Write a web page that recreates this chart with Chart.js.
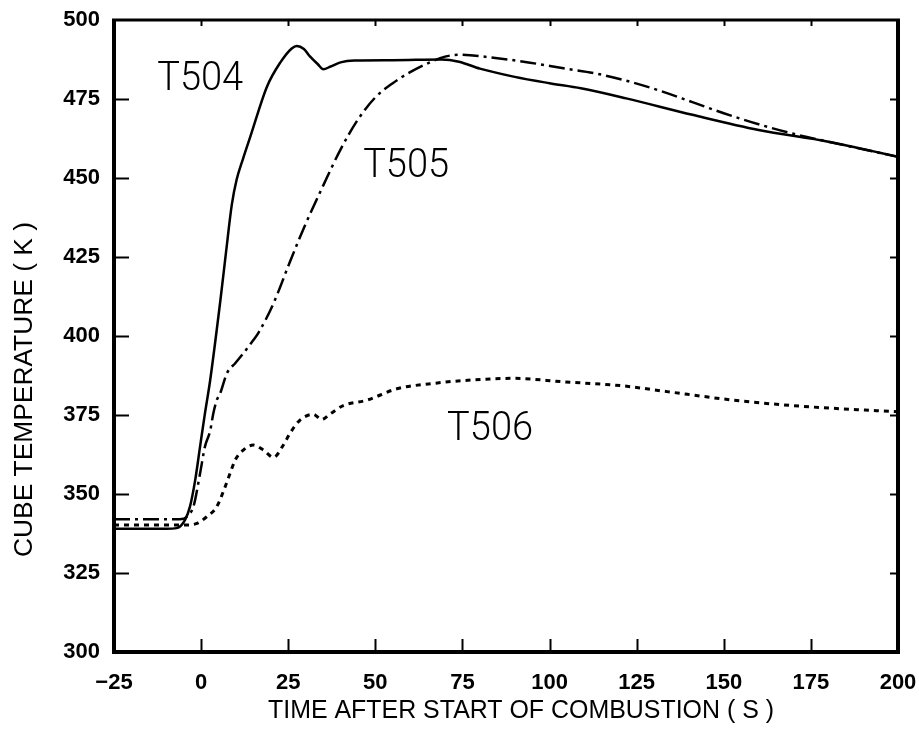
<!DOCTYPE html>
<html>
<head>
<meta charset="utf-8">
<script src="https://cdn.jsdelivr.net/npm/chart.js@4/dist/chart.umd.min.js"></script>
<style>
  html, body { margin: 0; padding: 0; background: #ffffff; }
  #wrap { width: 919px; height: 731px; }
</style>
</head>
<body>
<div id="wrap"><canvas id="c" width="919" height="731"></canvas></div>
<script>
// ---- data ----
const xTicks = [-25, 0, 25, 50, 75, 100, 125, 150, 175, 200];
const xTickLabels = ["\u221225", "0", "25", "50", "75", "100", "125", "150", "175", "200"];
const yTicks = [300, 325, 350, 375, 400, 425, 450, 475, 500];
const yTickLabels = ["300", "325", "350", "375", "400", "425", "450", "475", "500"];

const seriesNames = ["T504", "T505", "T506"];

const t504Time = [-25, -10, -7, -4.6, -3.2, -1.7, -0.3, 1.1, 2.6, 5.5, 7.2, 8.8, 10.2, 12, 14.1, 18.9, 22.7, 26, 27.5, 29.5, 31.3, 33.5, 35.1, 37, 40, 44, 55, 69, 74, 80, 90, 100, 109, 122, 141, 160, 180, 200];
const t504Temp = [339, 339, 339.2, 341.8, 346, 354.4, 365, 375.5, 386, 411, 427, 441.5, 449.5, 456, 463, 478.9, 486.5, 491, 491.8, 490.8, 488.4, 486, 484.4, 485.2, 486.6, 487.2, 487.3, 487.5, 486.8, 484.6, 482, 480, 478.4, 475.2, 470, 465.2, 461.5, 456.7];

const t505Time = [-25, -8, -5, -3.6, -2.2, -0.3, 1.1, 2.6, 3.5, 4.5, 5.5, 7.4, 9.8, 12.1, 15, 16.4, 20.8, 25.5, 30, 35, 40, 45, 50, 55, 60, 65, 70, 74, 85, 94.4, 104, 113.6, 123, 132, 141, 150, 160, 170, 180, 200];
const t505Temp = [342, 342, 342.2, 343.4, 346, 356.5, 365, 370, 375.5, 379.7, 381.9, 388.2, 391.4, 394.5, 398.7, 400.9, 410.4, 423.5, 435.5, 447.5, 459, 468.5, 475.5, 480, 483.5, 486.3, 488.4, 489, 487.9, 486.5, 484.7, 483, 480.5, 477.5, 474, 470.5, 467, 464, 461.5, 456.7];

const t506Time = [-25, -4, -1.2, 1.6, 4.5, 6.9, 8.3, 9.8, 12.1, 15, 17.9, 20.8, 23.6, 25.5, 28.4, 32.2, 34.6, 37, 40.8, 47.6, 56.2, 66.7, 75.3, 89.6, 104, 121.2, 133.7, 152.8, 171.9, 200];
const t506Temp = [340.2, 340.2, 340.7, 342.8, 346, 352.3, 356.5, 360.8, 363.9, 365.5, 363.9, 361.6, 365.5, 369.2, 373.4, 375.2, 373.6, 375.3, 378, 379.7, 383.3, 385, 385.9, 386.6, 385.5, 384.2, 382.4, 379.7, 377.8, 376];

// label anchors (data coordinates, left/baseline)
const labelTime = [-12.6, 46.5, 70.6];
const labelTemp = [477.8, 450.3, 367.1];

const xTitle = "TIME AFTER START OF COMBUSTION ( S )";
const yTitle = "CUBE TEMPERATURE ( K )";

function pts(xs, ys) { return xs.map((x, i) => ({ x: x, y: ys[i] })); }

function fitText(ctx, text, x, y, targetW) {
  const w = ctx.measureText(text).width;
  const s = targetW / w;
  ctx.save();
  ctx.translate(x, y);
  ctx.scale(s, 1);
  ctx.fillText(text, 0, 0);
  ctx.restore();
}

const framePlugin = {
  id: 'framePlugin',
  afterDatasetsDraw(chart) {
    const ctx = chart.ctx;
    const a = chart.chartArea;
    const xs = chart.scales.x, ys = chart.scales.y;
    ctx.save();
    ctx.strokeStyle = '#000';
    ctx.lineCap = 'butt';
    // frame
    ctx.lineWidth = 4;
    ctx.beginPath();
    ctx.moveTo(a.left, a.top);
    ctx.lineTo(a.left, a.bottom);
    ctx.lineTo(a.right, a.bottom);
    ctx.lineTo(a.right, a.top);
    ctx.stroke();
    ctx.lineWidth = 3;
    ctx.beginPath();
    ctx.moveTo(a.left - 2, a.top);
    ctx.lineTo(a.right + 2, a.top);
    ctx.stroke();
    // inward ticks
    ctx.lineWidth = 2;
    xTicks.forEach(v => {
      const px = Math.round(xs.getPixelForValue(v)) + 0.5;
      if (v > -25 && v < 200) {
        ctx.beginPath(); ctx.moveTo(px, a.bottom); ctx.lineTo(px, a.bottom - 13); ctx.stroke();
        ctx.beginPath(); ctx.moveTo(px, a.top); ctx.lineTo(px, a.top + 6); ctx.stroke();
      }
    });
    yTicks.forEach(v => {
      const py = Math.round(ys.getPixelForValue(v)) + 0.5;
      if (v > 300 && v < 500) {
        ctx.beginPath(); ctx.moveTo(a.left, py); ctx.lineTo(a.left + 15, py); ctx.stroke();
        ctx.beginPath(); ctx.moveTo(a.right, py); ctx.lineTo(a.right - 8, py); ctx.stroke();
      }
    });
    // series labels
    ctx.fillStyle = '#000';
    ctx.font = '300 41px Roboto, "Liberation Sans", sans-serif';
    ctx.textBaseline = 'alphabetic';
    ctx.textAlign = 'left';
    seriesNames.forEach((n, i) => {
      const px = xs.getPixelForValue(labelTime[i]);
      const py = ys.getPixelForValue(labelTemp[i]);
      fitText(ctx, n, px, py, 86);
    });
    // axis titles
    ctx.font = '26px "Liberation Sans", Arial, sans-serif';
    ctx.textBaseline = 'middle';
    fitText(ctx, xTitle, 268, 711, 506);
    ctx.save();
    ctx.translate(25, 557);
    ctx.rotate(-Math.PI / 2);
    fitText(ctx, yTitle, 0, 0, 335);
    ctx.restore();
    ctx.restore();
  }
};

function zeroPad(s) { s.paddingLeft = 0; s.paddingRight = 0; s.paddingTop = 0; s.paddingBottom = 0; }

const ctx = document.getElementById('c').getContext('2d');
new Chart(ctx, {
  type: 'line',
  data: {
    datasets: [
      { label: seriesNames[0], data: pts(t504Time, t504Temp), borderColor: '#000', borderWidth: 2.5, pointRadius: 0, cubicInterpolationMode: 'monotone', fill: false },
      { label: seriesNames[1], data: pts(t505Time, t505Temp), borderColor: '#000', borderWidth: 2.5, borderDash: [16, 5, 3, 5], pointRadius: 0, cubicInterpolationMode: 'monotone', fill: false },
      { label: seriesNames[2], data: pts(t506Time, t506Temp), borderColor: '#000', borderWidth: 3, borderDash: [5, 5], pointRadius: 0, cubicInterpolationMode: 'monotone', fill: false }
    ]
  },
  options: {
    responsive: false,
    animation: false,
    layout: { padding: { top: 20, right: 21, left: 0, bottom: 0 } },
    plugins: { legend: { display: false }, tooltip: { enabled: false }, title: { display: false } },
    scales: {
      x: {
        type: 'linear', min: -25, max: 200,
        afterBuildTicks: s => { s.ticks = xTicks.map(v => ({ value: v })); },
        afterFit: s => { s.height = 79; zeroPad(s); },
        grid: { display: false, drawTicks: false },
        border: { display: false },
        ticks: {
          padding: 18, color: '#000', maxRotation: 0, autoSkip: false,
          font: { family: '"Liberation Sans", Arial, sans-serif', size: 22, weight: 'bold' },
          callback: (v) => { const i = xTicks.indexOf(v); return i >= 0 ? xTickLabels[i] : ''; }
        }
      },
      y: {
        type: 'linear', min: 300, max: 500,
        afterBuildTicks: s => { s.ticks = yTicks.map(v => ({ value: v })); },
        afterFit: s => { s.width = 114; zeroPad(s); },
        grid: { display: false, drawTicks: false },
        border: { display: false },
        ticks: {
          padding: 14, color: '#000', autoSkip: false,
          font: { family: '"Liberation Sans", Arial, sans-serif', size: 22, weight: 'bold' },
          callback: (v) => { const i = yTicks.indexOf(v); return i >= 0 ? yTickLabels[i] : ''; }
        }
      }
    }
  },
  plugins: [framePlugin]
});
</script>
</body>
</html>
